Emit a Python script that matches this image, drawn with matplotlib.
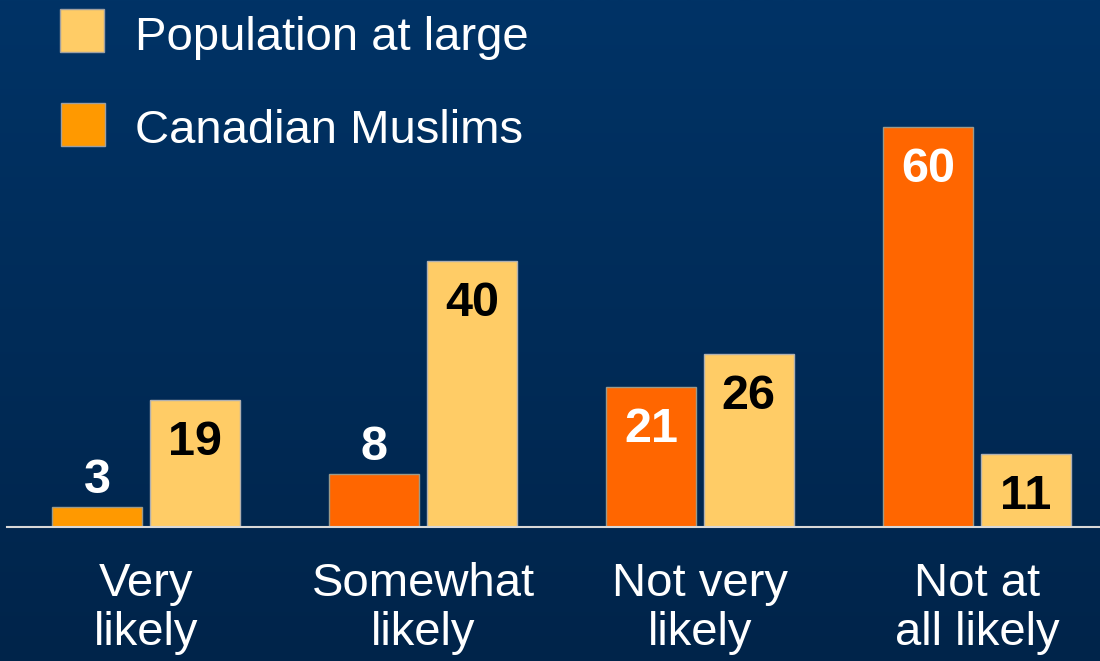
import numpy as np
import matplotlib
matplotlib.use("Agg")
import matplotlib.pyplot as plt
from matplotlib.patches import Rectangle

plt.rcParams['font.family'] = ['Liberation Sans', 'DejaVu Sans']

# Survey responses (percent)
categories = ["Very\nlikely", "Somewhat\nlikely", "Not very\nlikely", "Not at\nall likely"]
muslims = [3, 8, 21, 60]
population = [19, 40, 26, 11]
series_names = ["Population at large", "Canadian Muslims"]

W, H = 1100, 661
fig = plt.figure(figsize=(W / 100, H / 100), dpi=100)

# Vertical navy gradient for the background
bg = fig.add_axes([0, 0, 1, 1], zorder=0)
top = np.array([0, 51, 102]) / 255
bot = np.array([0, 36, 74]) / 255
t = np.linspace(0, 1, 256)[:, None]
grad = (top[None, :] * (1 - t) + bot[None, :] * t)[:, None, :]
bg.imshow(grad, aspect='auto', extent=[0, 1, 0, 1], origin='upper')
bg.set_axis_off()

# Plot area in pixel terms: baseline at y=527, spanning x=7..1100
base_px = 527
ax = fig.add_axes([7 / W, (H - base_px) / H, (W - 7) / W, base_px / H], zorder=1)
ax.patch.set_alpha(0)

x = np.arange(len(categories))
width = 0.325
off = 0.176

col_pop = '#FFCC66'
col_mus = ['#FF9900', '#FF6600', '#FF6600', '#FF6600']

bars_m = ax.bar(x - off, muslims, width, color=col_mus, edgecolor='#9a9a8a', linewidth=1)
bars_p = ax.bar(x + off, population, width, color=col_pop, edgecolor='#b0b0b0', linewidth=1)

ax.set_xlim(-0.502, 3.444)
ax.set_ylim(0, 79.1)

for bars, vals, color in ((bars_m, muslims, 'white'), (bars_p, population, 'black')):
    for b, v in zip(bars, vals):
        cx = b.get_x() + b.get_width() / 2
        if v >= 10:
            ax.annotate(str(v), (cx, v), xytext=(0, -14.4), textcoords='offset points',
                        ha='center', va='top', fontsize=35, fontweight='bold', color=color)
        else:
            ax.annotate(str(v), (cx, v), xytext=(0, 10.1), textcoords='offset points',
                        ha='center', va='baseline', fontsize=35, fontweight='bold', color=color)

for s in ('top', 'right', 'left'):
    ax.spines[s].set_visible(False)
ax.spines['bottom'].set_color('#d8d8d8')
ax.spines['bottom'].set_linewidth(1.5)
ax.set_yticks([])
ax.set_xticks(x)
ax.set_xticklabels(categories, fontsize=34, color='white', linespacing=1.15)
ax.tick_params(axis='x', length=0, pad=25)

# Legend drawn as swatches and labels in pixel positions
def px_rect(x0, y0, x1, y1, color):
    fig.add_artist(Rectangle((x0 / W, 1 - y1 / H), (x1 - x0) / W, (y1 - y0) / H,
                             transform=fig.transFigure, facecolor=color,
                             edgecolor='#a0a0a0', linewidth=1, zorder=3))

px_rect(60, 9, 104, 52, col_pop)
px_rect(61, 103, 105, 146, '#FF9900')
fig.text(135 / W, 1 - 38 / H, series_names[0], fontsize=34, color='white',
         va='center', ha='left', zorder=3)
fig.text(135 / W, 1 - 131 / H, series_names[1], fontsize=34, color='white',
         va='center', ha='left', zorder=3)

fig.savefig('out.png', dpi=100)
